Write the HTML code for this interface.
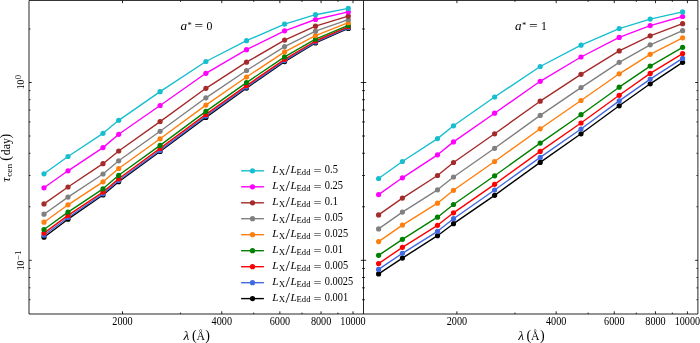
<!DOCTYPE html>
<html><head><meta charset="utf-8"><title>tau_cen vs lambda</title>
<style>html,body{margin:0;padding:0;background:#fff}svg{display:block;will-change:transform}text{fill:#000}</style>
</head><body>
<svg width="700" height="343" viewBox="0 0 700 343">
<rect width="700" height="343" fill="#fff"/>
<defs><clipPath id="cl"><rect x="29.0" y="0.45" width="334.5" height="313.55"/></clipPath><clipPath id="cr"><rect x="363.5" y="0.45" width="334.4" height="313.55"/></clipPath></defs>
<g clip-path="url(#cl)">
<polyline points="44.0,237.2 68.0,219.2 103.0,195.0 118.7,181.7 160.1,151.4 205.9,117.4 246.5,88.1 284.6,61.6 315.5,42.9 348.3,28.4" fill="none" stroke="#000000" stroke-width="1.4" stroke-linejoin="round"/>
<circle cx="44.0" cy="237.2" r="2.6" fill="#000000"/>
<circle cx="68.0" cy="219.2" r="2.6" fill="#000000"/>
<circle cx="103.0" cy="195.0" r="2.6" fill="#000000"/>
<circle cx="118.7" cy="181.7" r="2.6" fill="#000000"/>
<circle cx="160.1" cy="151.4" r="2.6" fill="#000000"/>
<circle cx="205.9" cy="117.4" r="2.6" fill="#000000"/>
<circle cx="246.5" cy="88.1" r="2.6" fill="#000000"/>
<circle cx="284.6" cy="61.6" r="2.6" fill="#000000"/>
<circle cx="315.5" cy="42.9" r="2.6" fill="#000000"/>
<circle cx="348.3" cy="28.4" r="2.6" fill="#000000"/>
<polyline points="44.0,235.2 68.0,217.5 103.0,193.8 118.7,180.5 160.1,150.4 205.9,116.1 246.5,87.1 284.6,60.6 315.5,42.1 348.3,27.6" fill="none" stroke="#4169e1" stroke-width="1.4" stroke-linejoin="round"/>
<circle cx="44.0" cy="235.2" r="2.6" fill="#4169e1"/>
<circle cx="68.0" cy="217.5" r="2.6" fill="#4169e1"/>
<circle cx="103.0" cy="193.8" r="2.6" fill="#4169e1"/>
<circle cx="118.7" cy="180.5" r="2.6" fill="#4169e1"/>
<circle cx="160.1" cy="150.4" r="2.6" fill="#4169e1"/>
<circle cx="205.9" cy="116.1" r="2.6" fill="#4169e1"/>
<circle cx="246.5" cy="87.1" r="2.6" fill="#4169e1"/>
<circle cx="284.6" cy="60.6" r="2.6" fill="#4169e1"/>
<circle cx="315.5" cy="42.1" r="2.6" fill="#4169e1"/>
<circle cx="348.3" cy="27.6" r="2.6" fill="#4169e1"/>
<polyline points="44.0,233.1 68.0,215.4 103.0,192.1 118.7,178.8 160.1,148.4 205.9,114.4 246.5,85.6 284.6,59.3 315.5,41.0 348.3,26.6" fill="none" stroke="#ff0000" stroke-width="1.4" stroke-linejoin="round"/>
<circle cx="44.0" cy="233.1" r="2.6" fill="#ff0000"/>
<circle cx="68.0" cy="215.4" r="2.6" fill="#ff0000"/>
<circle cx="103.0" cy="192.1" r="2.6" fill="#ff0000"/>
<circle cx="118.7" cy="178.8" r="2.6" fill="#ff0000"/>
<circle cx="160.1" cy="148.4" r="2.6" fill="#ff0000"/>
<circle cx="205.9" cy="114.4" r="2.6" fill="#ff0000"/>
<circle cx="246.5" cy="85.6" r="2.6" fill="#ff0000"/>
<circle cx="284.6" cy="59.3" r="2.6" fill="#ff0000"/>
<circle cx="315.5" cy="41.0" r="2.6" fill="#ff0000"/>
<circle cx="348.3" cy="26.6" r="2.6" fill="#ff0000"/>
<polyline points="44.0,229.5 68.0,212.1 103.0,188.8 118.7,175.3 160.1,145.4 205.9,111.4 246.5,82.6 284.6,56.8 315.5,39.2 348.3,25.4" fill="none" stroke="#008000" stroke-width="1.4" stroke-linejoin="round"/>
<circle cx="44.0" cy="229.5" r="2.6" fill="#008000"/>
<circle cx="68.0" cy="212.1" r="2.6" fill="#008000"/>
<circle cx="103.0" cy="188.8" r="2.6" fill="#008000"/>
<circle cx="118.7" cy="175.3" r="2.6" fill="#008000"/>
<circle cx="160.1" cy="145.4" r="2.6" fill="#008000"/>
<circle cx="205.9" cy="111.4" r="2.6" fill="#008000"/>
<circle cx="246.5" cy="82.6" r="2.6" fill="#008000"/>
<circle cx="284.6" cy="56.8" r="2.6" fill="#008000"/>
<circle cx="315.5" cy="39.2" r="2.6" fill="#008000"/>
<circle cx="348.3" cy="25.4" r="2.6" fill="#008000"/>
<polyline points="44.0,222.2 68.0,204.8 103.0,181.8 118.7,168.5 160.1,138.8 205.9,105.1 246.5,77.0 284.6,51.8 315.5,35.6 348.3,22.7" fill="none" stroke="#ff7f0e" stroke-width="1.4" stroke-linejoin="round"/>
<circle cx="44.0" cy="222.2" r="2.6" fill="#ff7f0e"/>
<circle cx="68.0" cy="204.8" r="2.6" fill="#ff7f0e"/>
<circle cx="103.0" cy="181.8" r="2.6" fill="#ff7f0e"/>
<circle cx="118.7" cy="168.5" r="2.6" fill="#ff7f0e"/>
<circle cx="160.1" cy="138.8" r="2.6" fill="#ff7f0e"/>
<circle cx="205.9" cy="105.1" r="2.6" fill="#ff7f0e"/>
<circle cx="246.5" cy="77.0" r="2.6" fill="#ff7f0e"/>
<circle cx="284.6" cy="51.8" r="2.6" fill="#ff7f0e"/>
<circle cx="315.5" cy="35.6" r="2.6" fill="#ff7f0e"/>
<circle cx="348.3" cy="22.7" r="2.6" fill="#ff7f0e"/>
<polyline points="44.0,214.2 68.0,197.1 103.0,174.0 118.7,160.8 160.1,131.3 205.9,97.8 246.5,70.5 284.6,46.6 315.5,31.2 348.3,19.7" fill="none" stroke="#808080" stroke-width="1.4" stroke-linejoin="round"/>
<circle cx="44.0" cy="214.2" r="2.6" fill="#808080"/>
<circle cx="68.0" cy="197.1" r="2.6" fill="#808080"/>
<circle cx="103.0" cy="174.0" r="2.6" fill="#808080"/>
<circle cx="118.7" cy="160.8" r="2.6" fill="#808080"/>
<circle cx="160.1" cy="131.3" r="2.6" fill="#808080"/>
<circle cx="205.9" cy="97.8" r="2.6" fill="#808080"/>
<circle cx="246.5" cy="70.5" r="2.6" fill="#808080"/>
<circle cx="284.6" cy="46.6" r="2.6" fill="#808080"/>
<circle cx="315.5" cy="31.2" r="2.6" fill="#808080"/>
<circle cx="348.3" cy="19.7" r="2.6" fill="#808080"/>
<polyline points="44.0,203.9 68.0,187.0 103.0,163.7 118.7,151.0 160.1,121.6 205.9,88.3 246.5,62.2 284.6,40.1 315.5,26.2 348.3,16.1" fill="none" stroke="#a52a2a" stroke-width="1.4" stroke-linejoin="round"/>
<circle cx="44.0" cy="203.9" r="2.6" fill="#a52a2a"/>
<circle cx="68.0" cy="187.0" r="2.6" fill="#a52a2a"/>
<circle cx="103.0" cy="163.7" r="2.6" fill="#a52a2a"/>
<circle cx="118.7" cy="151.0" r="2.6" fill="#a52a2a"/>
<circle cx="160.1" cy="121.6" r="2.6" fill="#a52a2a"/>
<circle cx="205.9" cy="88.3" r="2.6" fill="#a52a2a"/>
<circle cx="246.5" cy="62.2" r="2.6" fill="#a52a2a"/>
<circle cx="284.6" cy="40.1" r="2.6" fill="#a52a2a"/>
<circle cx="315.5" cy="26.2" r="2.6" fill="#a52a2a"/>
<circle cx="348.3" cy="16.1" r="2.6" fill="#a52a2a"/>
<polyline points="44.0,187.8 68.0,170.8 103.0,147.6 118.7,134.3 160.1,105.5 205.9,73.3 246.5,49.7 284.6,30.8 315.5,19.5 348.3,11.9" fill="none" stroke="#ff00ff" stroke-width="1.4" stroke-linejoin="round"/>
<circle cx="44.0" cy="187.8" r="2.6" fill="#ff00ff"/>
<circle cx="68.0" cy="170.8" r="2.6" fill="#ff00ff"/>
<circle cx="103.0" cy="147.6" r="2.6" fill="#ff00ff"/>
<circle cx="118.7" cy="134.3" r="2.6" fill="#ff00ff"/>
<circle cx="160.1" cy="105.5" r="2.6" fill="#ff00ff"/>
<circle cx="205.9" cy="73.3" r="2.6" fill="#ff00ff"/>
<circle cx="246.5" cy="49.7" r="2.6" fill="#ff00ff"/>
<circle cx="284.6" cy="30.8" r="2.6" fill="#ff00ff"/>
<circle cx="315.5" cy="19.5" r="2.6" fill="#ff00ff"/>
<circle cx="348.3" cy="11.9" r="2.6" fill="#ff00ff"/>
<polyline points="44.0,173.8 68.0,156.5 103.0,133.3 118.7,120.3 160.1,91.7 205.9,61.5 246.5,40.7 284.6,24.1 315.5,14.7 348.3,8.4" fill="none" stroke="#17becf" stroke-width="1.4" stroke-linejoin="round"/>
<circle cx="44.0" cy="173.8" r="2.6" fill="#17becf"/>
<circle cx="68.0" cy="156.5" r="2.6" fill="#17becf"/>
<circle cx="103.0" cy="133.3" r="2.6" fill="#17becf"/>
<circle cx="118.7" cy="120.3" r="2.6" fill="#17becf"/>
<circle cx="160.1" cy="91.7" r="2.6" fill="#17becf"/>
<circle cx="205.9" cy="61.5" r="2.6" fill="#17becf"/>
<circle cx="246.5" cy="40.7" r="2.6" fill="#17becf"/>
<circle cx="284.6" cy="24.1" r="2.6" fill="#17becf"/>
<circle cx="315.5" cy="14.7" r="2.6" fill="#17becf"/>
<circle cx="348.3" cy="8.4" r="2.6" fill="#17becf"/>
</g>
<g clip-path="url(#cr)">
<polyline points="378.6,273.9 402.4,258.1 437.5,235.7 453.5,223.7 494.6,195.3 540.2,162.4 581.0,133.8 619.2,105.8 650.2,83.8 682.6,62.3" fill="none" stroke="#000000" stroke-width="1.4" stroke-linejoin="round"/>
<circle cx="378.6" cy="273.9" r="2.6" fill="#000000"/>
<circle cx="402.4" cy="258.1" r="2.6" fill="#000000"/>
<circle cx="437.5" cy="235.7" r="2.6" fill="#000000"/>
<circle cx="453.5" cy="223.7" r="2.6" fill="#000000"/>
<circle cx="494.6" cy="195.3" r="2.6" fill="#000000"/>
<circle cx="540.2" cy="162.4" r="2.6" fill="#000000"/>
<circle cx="581.0" cy="133.8" r="2.6" fill="#000000"/>
<circle cx="619.2" cy="105.8" r="2.6" fill="#000000"/>
<circle cx="650.2" cy="83.8" r="2.6" fill="#000000"/>
<circle cx="682.6" cy="62.3" r="2.6" fill="#000000"/>
<polyline points="378.6,269.4 402.4,253.3 437.5,231.3 453.5,218.7 494.6,190.0 540.2,157.4 581.0,129.0 619.2,100.9 650.2,79.1 682.6,58.4" fill="none" stroke="#4169e1" stroke-width="1.4" stroke-linejoin="round"/>
<circle cx="378.6" cy="269.4" r="2.6" fill="#4169e1"/>
<circle cx="402.4" cy="253.3" r="2.6" fill="#4169e1"/>
<circle cx="437.5" cy="231.3" r="2.6" fill="#4169e1"/>
<circle cx="453.5" cy="218.7" r="2.6" fill="#4169e1"/>
<circle cx="494.6" cy="190.0" r="2.6" fill="#4169e1"/>
<circle cx="540.2" cy="157.4" r="2.6" fill="#4169e1"/>
<circle cx="581.0" cy="129.0" r="2.6" fill="#4169e1"/>
<circle cx="619.2" cy="100.9" r="2.6" fill="#4169e1"/>
<circle cx="650.2" cy="79.1" r="2.6" fill="#4169e1"/>
<circle cx="682.6" cy="58.4" r="2.6" fill="#4169e1"/>
<polyline points="378.6,263.6 402.4,247.3 437.5,225.3 453.5,212.8 494.6,184.3 540.2,151.4 581.0,123.0 619.2,95.3 650.2,73.4 682.6,53.6" fill="none" stroke="#ff0000" stroke-width="1.4" stroke-linejoin="round"/>
<circle cx="378.6" cy="263.6" r="2.6" fill="#ff0000"/>
<circle cx="402.4" cy="247.3" r="2.6" fill="#ff0000"/>
<circle cx="437.5" cy="225.3" r="2.6" fill="#ff0000"/>
<circle cx="453.5" cy="212.8" r="2.6" fill="#ff0000"/>
<circle cx="494.6" cy="184.3" r="2.6" fill="#ff0000"/>
<circle cx="540.2" cy="151.4" r="2.6" fill="#ff0000"/>
<circle cx="581.0" cy="123.0" r="2.6" fill="#ff0000"/>
<circle cx="619.2" cy="95.3" r="2.6" fill="#ff0000"/>
<circle cx="650.2" cy="73.4" r="2.6" fill="#ff0000"/>
<circle cx="682.6" cy="53.6" r="2.6" fill="#ff0000"/>
<polyline points="378.6,255.3 402.4,239.3 437.5,217.2 453.5,204.5 494.6,175.8 540.2,143.1 581.0,114.7 619.2,87.2 650.2,66.1 682.6,47.3" fill="none" stroke="#008000" stroke-width="1.4" stroke-linejoin="round"/>
<circle cx="378.6" cy="255.3" r="2.6" fill="#008000"/>
<circle cx="402.4" cy="239.3" r="2.6" fill="#008000"/>
<circle cx="437.5" cy="217.2" r="2.6" fill="#008000"/>
<circle cx="453.5" cy="204.5" r="2.6" fill="#008000"/>
<circle cx="494.6" cy="175.8" r="2.6" fill="#008000"/>
<circle cx="540.2" cy="143.1" r="2.6" fill="#008000"/>
<circle cx="581.0" cy="114.7" r="2.6" fill="#008000"/>
<circle cx="619.2" cy="87.2" r="2.6" fill="#008000"/>
<circle cx="650.2" cy="66.1" r="2.6" fill="#008000"/>
<circle cx="682.6" cy="47.3" r="2.6" fill="#008000"/>
<polyline points="378.6,241.6 402.4,225.1 437.5,203.2 453.5,190.3 494.6,161.5 540.2,128.8 581.0,100.5 619.2,73.8 650.2,54.3 682.6,37.8" fill="none" stroke="#ff7f0e" stroke-width="1.4" stroke-linejoin="round"/>
<circle cx="378.6" cy="241.6" r="2.6" fill="#ff7f0e"/>
<circle cx="402.4" cy="225.1" r="2.6" fill="#ff7f0e"/>
<circle cx="437.5" cy="203.2" r="2.6" fill="#ff7f0e"/>
<circle cx="453.5" cy="190.3" r="2.6" fill="#ff7f0e"/>
<circle cx="494.6" cy="161.5" r="2.6" fill="#ff7f0e"/>
<circle cx="540.2" cy="128.8" r="2.6" fill="#ff7f0e"/>
<circle cx="581.0" cy="100.5" r="2.6" fill="#ff7f0e"/>
<circle cx="619.2" cy="73.8" r="2.6" fill="#ff7f0e"/>
<circle cx="650.2" cy="54.3" r="2.6" fill="#ff7f0e"/>
<circle cx="682.6" cy="37.8" r="2.6" fill="#ff7f0e"/>
<polyline points="378.6,228.9 402.4,212.1 437.5,189.8 453.5,177.0 494.6,148.3 540.2,115.4 581.0,87.6 619.2,62.3 650.2,44.8 682.6,30.7" fill="none" stroke="#808080" stroke-width="1.4" stroke-linejoin="round"/>
<circle cx="378.6" cy="228.9" r="2.6" fill="#808080"/>
<circle cx="402.4" cy="212.1" r="2.6" fill="#808080"/>
<circle cx="437.5" cy="189.8" r="2.6" fill="#808080"/>
<circle cx="453.5" cy="177.0" r="2.6" fill="#808080"/>
<circle cx="494.6" cy="148.3" r="2.6" fill="#808080"/>
<circle cx="540.2" cy="115.4" r="2.6" fill="#808080"/>
<circle cx="581.0" cy="87.6" r="2.6" fill="#808080"/>
<circle cx="619.2" cy="62.3" r="2.6" fill="#808080"/>
<circle cx="650.2" cy="44.8" r="2.6" fill="#808080"/>
<circle cx="682.6" cy="30.7" r="2.6" fill="#808080"/>
<polyline points="378.6,214.9 402.4,198.1 437.5,175.5 453.5,162.5 494.6,133.8 540.2,101.2 581.0,74.3 619.2,50.9 650.2,35.8 682.6,23.7" fill="none" stroke="#a52a2a" stroke-width="1.4" stroke-linejoin="round"/>
<circle cx="378.6" cy="214.9" r="2.6" fill="#a52a2a"/>
<circle cx="402.4" cy="198.1" r="2.6" fill="#a52a2a"/>
<circle cx="437.5" cy="175.5" r="2.6" fill="#a52a2a"/>
<circle cx="453.5" cy="162.5" r="2.6" fill="#a52a2a"/>
<circle cx="494.6" cy="133.8" r="2.6" fill="#a52a2a"/>
<circle cx="540.2" cy="101.2" r="2.6" fill="#a52a2a"/>
<circle cx="581.0" cy="74.3" r="2.6" fill="#a52a2a"/>
<circle cx="619.2" cy="50.9" r="2.6" fill="#a52a2a"/>
<circle cx="650.2" cy="35.8" r="2.6" fill="#a52a2a"/>
<circle cx="682.6" cy="23.7" r="2.6" fill="#a52a2a"/>
<polyline points="378.6,194.6 402.4,177.8 437.5,154.8 453.5,141.9 494.6,113.2 540.2,81.3 581.0,57.0 619.2,37.4 650.2,25.6 682.6,16.5" fill="none" stroke="#ff00ff" stroke-width="1.4" stroke-linejoin="round"/>
<circle cx="378.6" cy="194.6" r="2.6" fill="#ff00ff"/>
<circle cx="402.4" cy="177.8" r="2.6" fill="#ff00ff"/>
<circle cx="437.5" cy="154.8" r="2.6" fill="#ff00ff"/>
<circle cx="453.5" cy="141.9" r="2.6" fill="#ff00ff"/>
<circle cx="494.6" cy="113.2" r="2.6" fill="#ff00ff"/>
<circle cx="540.2" cy="81.3" r="2.6" fill="#ff00ff"/>
<circle cx="581.0" cy="57.0" r="2.6" fill="#ff00ff"/>
<circle cx="619.2" cy="37.4" r="2.6" fill="#ff00ff"/>
<circle cx="650.2" cy="25.6" r="2.6" fill="#ff00ff"/>
<circle cx="682.6" cy="16.5" r="2.6" fill="#ff00ff"/>
<polyline points="378.6,178.5 402.4,161.5 437.5,138.6 453.5,125.8 494.6,97.0 540.2,66.5 581.0,45.2 619.2,28.6 650.2,19.1 682.6,11.9" fill="none" stroke="#17becf" stroke-width="1.4" stroke-linejoin="round"/>
<circle cx="378.6" cy="178.5" r="2.6" fill="#17becf"/>
<circle cx="402.4" cy="161.5" r="2.6" fill="#17becf"/>
<circle cx="437.5" cy="138.6" r="2.6" fill="#17becf"/>
<circle cx="453.5" cy="125.8" r="2.6" fill="#17becf"/>
<circle cx="494.6" cy="97.0" r="2.6" fill="#17becf"/>
<circle cx="540.2" cy="66.5" r="2.6" fill="#17becf"/>
<circle cx="581.0" cy="45.2" r="2.6" fill="#17becf"/>
<circle cx="619.2" cy="28.6" r="2.6" fill="#17becf"/>
<circle cx="650.2" cy="19.1" r="2.6" fill="#17becf"/>
<circle cx="682.6" cy="11.9" r="2.6" fill="#17becf"/>
</g>
<path d="M122.50 314.0v-2.7 M122.50 0.45v2.7 M180.57 314.0v-1.4 M180.57 0.45v1.4 M221.78 314.0v-2.7 M221.78 0.45v2.7 M253.74 314.0v-1.4 M253.74 0.45v1.4 M279.85 314.0v-2.7 M279.85 0.45v2.7 M301.93 314.0v-1.4 M301.93 0.45v1.4 M321.06 314.0v-2.7 M321.06 0.45v2.7 M337.93 314.0v-1.4 M337.93 0.45v1.4 M353.02 314.0v-2.7 M353.02 0.45v2.7 M456.90 314.0v-2.7 M456.90 0.45v2.7 M514.97 314.0v-1.4 M514.97 0.45v1.4 M556.18 314.0v-2.7 M556.18 0.45v2.7 M588.14 314.0v-1.4 M588.14 0.45v1.4 M614.25 314.0v-2.7 M614.25 0.45v2.7 M636.33 314.0v-1.4 M636.33 0.45v1.4 M655.46 314.0v-2.7 M655.46 0.45v2.7 M672.33 314.0v-1.4 M672.33 0.45v1.4 M687.42 314.0v-2.7 M687.42 0.45v2.7 M29.0 28.98h1.4 M362.1 28.98h2.8 M697.9 28.98h-1.4 M29.0 82.50h2.7 M360.8 82.50h5.4 M697.9 82.50h-2.7 M29.0 90.64h1.4 M362.1 90.64h2.8 M697.9 90.64h-1.4 M29.0 99.73h1.4 M362.1 99.73h2.8 M697.9 99.73h-1.4 M29.0 110.04h1.4 M362.1 110.04h2.8 M697.9 110.04h-1.4 M29.0 121.94h1.4 M362.1 121.94h2.8 M697.9 121.94h-1.4 M29.0 136.02h1.4 M362.1 136.02h2.8 M697.9 136.02h-1.4 M29.0 153.25h1.4 M362.1 153.25h2.8 M697.9 153.25h-1.4 M29.0 175.47h1.4 M362.1 175.47h2.8 M697.9 175.47h-1.4 M29.0 206.78h1.4 M362.1 206.78h2.8 M697.9 206.78h-1.4 M29.0 260.30h2.7 M360.8 260.30h5.4 M697.9 260.30h-2.7 M29.0 268.44h1.4 M362.1 268.44h2.8 M697.9 268.44h-1.4 M29.0 277.53h1.4 M362.1 277.53h2.8 M697.9 277.53h-1.4 M29.0 287.84h1.4 M362.1 287.84h2.8 M697.9 287.84h-1.4 M29.0 299.74h1.4 M362.1 299.74h2.8 M697.9 299.74h-1.4" stroke="#000" stroke-width="0.85" fill="none"/>
<path d="M29.0 0.45H697.9V314.0H29.0Z M363.5 0.45V314.0" fill="none" stroke="#000" stroke-width="0.85"/>
<text font-size="11.6" font-family="Liberation Serif, serif" textLength="20.4" lengthAdjust="spacingAndGlyphs" x="112.3" y="324.6">2000</text>
<text font-size="11.6" font-family="Liberation Serif, serif" textLength="20.4" lengthAdjust="spacingAndGlyphs" x="211.6" y="324.6">4000</text>
<text font-size="11.6" font-family="Liberation Serif, serif" textLength="20.4" lengthAdjust="spacingAndGlyphs" x="269.7" y="324.6">6000</text>
<text font-size="11.6" font-family="Liberation Serif, serif" textLength="20.4" lengthAdjust="spacingAndGlyphs" x="310.9" y="324.6">8000</text>
<text font-size="11.6" font-family="Liberation Serif, serif" textLength="25.4" lengthAdjust="spacingAndGlyphs" x="340.3" y="324.6">10000</text>
<text font-size="11.6" font-family="Liberation Serif, serif" textLength="20.4" lengthAdjust="spacingAndGlyphs" x="446.7" y="324.6">2000</text>
<text font-size="11.6" font-family="Liberation Serif, serif" textLength="20.4" lengthAdjust="spacingAndGlyphs" x="546.0" y="324.6">4000</text>
<text font-size="11.6" font-family="Liberation Serif, serif" textLength="20.4" lengthAdjust="spacingAndGlyphs" x="604.1" y="324.6">6000</text>
<text font-size="11.6" font-family="Liberation Serif, serif" textLength="20.4" lengthAdjust="spacingAndGlyphs" x="645.3" y="324.6">8000</text>
<text font-size="11.6" font-family="Liberation Serif, serif" textLength="25.4" lengthAdjust="spacingAndGlyphs" x="674.7" y="324.6">10000</text>
<text font-size="13.4" font-family="Liberation Serif, serif" font-style="italic" x="183.60000000000002" y="340.0">λ</text>
<text font-size="14" font-family="Liberation Serif, serif" x="191.9" y="340.4">(</text>
<text font-size="12.2" font-family="Liberation Serif, serif" textLength="8.5" lengthAdjust="spacingAndGlyphs" x="196.4" y="340.2">Å</text>
<text font-size="14" font-family="Liberation Serif, serif" x="205.3" y="340.4">)</text>
<text font-size="13.4" font-family="Liberation Serif, serif" font-style="italic" x="518.1999999999999" y="340.0">λ</text>
<text font-size="14" font-family="Liberation Serif, serif" x="526.5" y="340.4">(</text>
<text font-size="12.2" font-family="Liberation Serif, serif" textLength="8.5" lengthAdjust="spacingAndGlyphs" x="531.0" y="340.2">Å</text>
<text font-size="14" font-family="Liberation Serif, serif" x="539.9" y="340.4">)</text>
<text font-size="10.8" font-family="Liberation Serif, serif" textLength="9.6" lengthAdjust="spacingAndGlyphs" transform="translate(24.4,89.3) rotate(-90)">10</text>
<text font-size="7.8" font-family="Liberation Serif, serif" textLength="4.3" lengthAdjust="spacingAndGlyphs" transform="translate(21.3,79.3) rotate(-90)">0</text>
<text font-size="10.8" font-family="Liberation Serif, serif" textLength="9.6" lengthAdjust="spacingAndGlyphs" transform="translate(24.4,270.3) rotate(-90)">10</text>
<text font-size="7.8" font-family="Liberation Serif, serif" textLength="9.8" lengthAdjust="spacingAndGlyphs" transform="translate(21.3,260.2) rotate(-90)">−1</text>
<text font-size="13.2" font-family="Liberation Serif, serif" font-style="italic" transform="translate(9.8,182.0) rotate(-90)">τ</text>
<text font-size="9.0" font-family="Liberation Serif, serif" textLength="12.9" lengthAdjust="spacingAndGlyphs" transform="translate(11.8,176.8) rotate(-90)">cen</text>
<text font-size="14" font-family="Liberation Serif, serif" transform="translate(9.8,160.8) rotate(-90)">(</text>
<text font-size="12.2" font-family="Liberation Serif, serif" textLength="17.0" lengthAdjust="spacingAndGlyphs" transform="translate(9.8,155.2) rotate(-90)">day</text>
<text font-size="14" font-family="Liberation Serif, serif" transform="translate(9.8,138.4) rotate(-90)">)</text>
<text font-size="12.6" font-family="Liberation Serif, serif" font-style="italic" textLength="6.6" lengthAdjust="spacingAndGlyphs" x="180.6" y="29.8">a</text>
<text font-size="8.6" font-family="Liberation Serif, serif" x="187.6" y="27.9">*</text>
<text font-size="12.2" font-family="Liberation Serif, serif" textLength="8.6" lengthAdjust="spacingAndGlyphs" x="194.6" y="29.8">=</text>
<text font-size="12.0" font-family="Liberation Serif, serif" textLength="5.9" lengthAdjust="spacingAndGlyphs" x="206.6" y="29.7">0</text>
<text font-size="12.6" font-family="Liberation Serif, serif" font-style="italic" textLength="6.6" lengthAdjust="spacingAndGlyphs" x="514.9" y="29.8">a</text>
<text font-size="8.6" font-family="Liberation Serif, serif" x="521.9" y="27.9">*</text>
<text font-size="12.2" font-family="Liberation Serif, serif" textLength="8.6" lengthAdjust="spacingAndGlyphs" x="528.9" y="29.8">=</text>
<text font-size="12.0" font-family="Liberation Serif, serif" textLength="5.9" lengthAdjust="spacingAndGlyphs" x="540.9" y="29.7">1</text>
<line x1="241.1" x2="263.9" y1="170.8" y2="170.8" stroke="#17becf" stroke-width="1.4"/>
<circle cx="252.5" cy="170.8" r="2.6" fill="#17becf"/>
<text font-size="11.3" font-family="Liberation Serif, serif" font-style="italic" x="272.2" y="172.7">L</text>
<text font-size="7.6" font-family="Liberation Serif, serif" textLength="6.5" lengthAdjust="spacingAndGlyphs" x="278.8" y="174.6">X</text>
<text font-size="15" font-family="Liberation Serif, serif" textLength="4.4" lengthAdjust="spacingAndGlyphs" x="285.5" y="175.29999999999998">/</text>
<text font-size="11.3" font-family="Liberation Serif, serif" font-style="italic" x="290.6" y="172.7">L</text>
<text font-size="7.6" font-family="Liberation Serif, serif" textLength="13.9" lengthAdjust="spacingAndGlyphs" x="296.6" y="174.6">Edd</text>
<text font-size="11.4" font-family="Liberation Serif, serif" textLength="8.0" lengthAdjust="spacingAndGlyphs" x="313.6" y="173.79999999999998">=</text>
<text font-size="11.8" font-family="Liberation Serif, serif" textLength="13.1" lengthAdjust="spacingAndGlyphs" x="324.8" y="173.1">0.5</text>
<line x1="241.1" x2="263.9" y1="186.8" y2="186.8" stroke="#ff00ff" stroke-width="1.4"/>
<circle cx="252.5" cy="186.8" r="2.6" fill="#ff00ff"/>
<text font-size="11.3" font-family="Liberation Serif, serif" font-style="italic" x="272.2" y="188.7">L</text>
<text font-size="7.6" font-family="Liberation Serif, serif" textLength="6.5" lengthAdjust="spacingAndGlyphs" x="278.8" y="190.6">X</text>
<text font-size="15" font-family="Liberation Serif, serif" textLength="4.4" lengthAdjust="spacingAndGlyphs" x="285.5" y="191.29999999999998">/</text>
<text font-size="11.3" font-family="Liberation Serif, serif" font-style="italic" x="290.6" y="188.7">L</text>
<text font-size="7.6" font-family="Liberation Serif, serif" textLength="13.9" lengthAdjust="spacingAndGlyphs" x="296.6" y="190.6">Edd</text>
<text font-size="11.4" font-family="Liberation Serif, serif" textLength="8.0" lengthAdjust="spacingAndGlyphs" x="313.6" y="189.79999999999998">=</text>
<text font-size="11.8" font-family="Liberation Serif, serif" textLength="18.2" lengthAdjust="spacingAndGlyphs" x="324.8" y="189.1">0.25</text>
<line x1="241.1" x2="263.9" y1="202.8" y2="202.8" stroke="#a52a2a" stroke-width="1.4"/>
<circle cx="252.5" cy="202.8" r="2.6" fill="#a52a2a"/>
<text font-size="11.3" font-family="Liberation Serif, serif" font-style="italic" x="272.2" y="204.7">L</text>
<text font-size="7.6" font-family="Liberation Serif, serif" textLength="6.5" lengthAdjust="spacingAndGlyphs" x="278.8" y="206.6">X</text>
<text font-size="15" font-family="Liberation Serif, serif" textLength="4.4" lengthAdjust="spacingAndGlyphs" x="285.5" y="207.29999999999998">/</text>
<text font-size="11.3" font-family="Liberation Serif, serif" font-style="italic" x="290.6" y="204.7">L</text>
<text font-size="7.6" font-family="Liberation Serif, serif" textLength="13.9" lengthAdjust="spacingAndGlyphs" x="296.6" y="206.6">Edd</text>
<text font-size="11.4" font-family="Liberation Serif, serif" textLength="8.0" lengthAdjust="spacingAndGlyphs" x="313.6" y="205.79999999999998">=</text>
<text font-size="11.8" font-family="Liberation Serif, serif" textLength="13.1" lengthAdjust="spacingAndGlyphs" x="324.8" y="205.1">0.1</text>
<line x1="241.1" x2="263.9" y1="218.7" y2="218.7" stroke="#808080" stroke-width="1.4"/>
<circle cx="252.5" cy="218.7" r="2.6" fill="#808080"/>
<text font-size="11.3" font-family="Liberation Serif, serif" font-style="italic" x="272.2" y="220.6">L</text>
<text font-size="7.6" font-family="Liberation Serif, serif" textLength="6.5" lengthAdjust="spacingAndGlyphs" x="278.8" y="222.5">X</text>
<text font-size="15" font-family="Liberation Serif, serif" textLength="4.4" lengthAdjust="spacingAndGlyphs" x="285.5" y="223.2">/</text>
<text font-size="11.3" font-family="Liberation Serif, serif" font-style="italic" x="290.6" y="220.6">L</text>
<text font-size="7.6" font-family="Liberation Serif, serif" textLength="13.9" lengthAdjust="spacingAndGlyphs" x="296.6" y="222.5">Edd</text>
<text font-size="11.4" font-family="Liberation Serif, serif" textLength="8.0" lengthAdjust="spacingAndGlyphs" x="313.6" y="221.7">=</text>
<text font-size="11.8" font-family="Liberation Serif, serif" textLength="18.2" lengthAdjust="spacingAndGlyphs" x="324.8" y="221.0">0.05</text>
<line x1="241.1" x2="263.9" y1="234.7" y2="234.7" stroke="#ff7f0e" stroke-width="1.4"/>
<circle cx="252.5" cy="234.7" r="2.6" fill="#ff7f0e"/>
<text font-size="11.3" font-family="Liberation Serif, serif" font-style="italic" x="272.2" y="236.6">L</text>
<text font-size="7.6" font-family="Liberation Serif, serif" textLength="6.5" lengthAdjust="spacingAndGlyphs" x="278.8" y="238.5">X</text>
<text font-size="15" font-family="Liberation Serif, serif" textLength="4.4" lengthAdjust="spacingAndGlyphs" x="285.5" y="239.2">/</text>
<text font-size="11.3" font-family="Liberation Serif, serif" font-style="italic" x="290.6" y="236.6">L</text>
<text font-size="7.6" font-family="Liberation Serif, serif" textLength="13.9" lengthAdjust="spacingAndGlyphs" x="296.6" y="238.5">Edd</text>
<text font-size="11.4" font-family="Liberation Serif, serif" textLength="8.0" lengthAdjust="spacingAndGlyphs" x="313.6" y="237.7">=</text>
<text font-size="11.8" font-family="Liberation Serif, serif" textLength="23.3" lengthAdjust="spacingAndGlyphs" x="324.8" y="237.0">0.025</text>
<line x1="241.1" x2="263.9" y1="250.7" y2="250.7" stroke="#008000" stroke-width="1.4"/>
<circle cx="252.5" cy="250.7" r="2.6" fill="#008000"/>
<text font-size="11.3" font-family="Liberation Serif, serif" font-style="italic" x="272.2" y="252.6">L</text>
<text font-size="7.6" font-family="Liberation Serif, serif" textLength="6.5" lengthAdjust="spacingAndGlyphs" x="278.8" y="254.5">X</text>
<text font-size="15" font-family="Liberation Serif, serif" textLength="4.4" lengthAdjust="spacingAndGlyphs" x="285.5" y="255.2">/</text>
<text font-size="11.3" font-family="Liberation Serif, serif" font-style="italic" x="290.6" y="252.6">L</text>
<text font-size="7.6" font-family="Liberation Serif, serif" textLength="13.9" lengthAdjust="spacingAndGlyphs" x="296.6" y="254.5">Edd</text>
<text font-size="11.4" font-family="Liberation Serif, serif" textLength="8.0" lengthAdjust="spacingAndGlyphs" x="313.6" y="253.7">=</text>
<text font-size="11.8" font-family="Liberation Serif, serif" textLength="18.2" lengthAdjust="spacingAndGlyphs" x="324.8" y="253.0">0.01</text>
<line x1="241.1" x2="263.9" y1="266.7" y2="266.7" stroke="#ff0000" stroke-width="1.4"/>
<circle cx="252.5" cy="266.7" r="2.6" fill="#ff0000"/>
<text font-size="11.3" font-family="Liberation Serif, serif" font-style="italic" x="272.2" y="268.6">L</text>
<text font-size="7.6" font-family="Liberation Serif, serif" textLength="6.5" lengthAdjust="spacingAndGlyphs" x="278.8" y="270.5">X</text>
<text font-size="15" font-family="Liberation Serif, serif" textLength="4.4" lengthAdjust="spacingAndGlyphs" x="285.5" y="271.20000000000005">/</text>
<text font-size="11.3" font-family="Liberation Serif, serif" font-style="italic" x="290.6" y="268.6">L</text>
<text font-size="7.6" font-family="Liberation Serif, serif" textLength="13.9" lengthAdjust="spacingAndGlyphs" x="296.6" y="270.5">Edd</text>
<text font-size="11.4" font-family="Liberation Serif, serif" textLength="8.0" lengthAdjust="spacingAndGlyphs" x="313.6" y="269.70000000000005">=</text>
<text font-size="11.8" font-family="Liberation Serif, serif" textLength="23.3" lengthAdjust="spacingAndGlyphs" x="324.8" y="269.0">0.005</text>
<line x1="241.1" x2="263.9" y1="282.7" y2="282.7" stroke="#4169e1" stroke-width="1.4"/>
<circle cx="252.5" cy="282.7" r="2.6" fill="#4169e1"/>
<text font-size="11.3" font-family="Liberation Serif, serif" font-style="italic" x="272.2" y="284.6">L</text>
<text font-size="7.6" font-family="Liberation Serif, serif" textLength="6.5" lengthAdjust="spacingAndGlyphs" x="278.8" y="286.5">X</text>
<text font-size="15" font-family="Liberation Serif, serif" textLength="4.4" lengthAdjust="spacingAndGlyphs" x="285.5" y="287.20000000000005">/</text>
<text font-size="11.3" font-family="Liberation Serif, serif" font-style="italic" x="290.6" y="284.6">L</text>
<text font-size="7.6" font-family="Liberation Serif, serif" textLength="13.9" lengthAdjust="spacingAndGlyphs" x="296.6" y="286.5">Edd</text>
<text font-size="11.4" font-family="Liberation Serif, serif" textLength="8.0" lengthAdjust="spacingAndGlyphs" x="313.6" y="285.70000000000005">=</text>
<text font-size="11.8" font-family="Liberation Serif, serif" textLength="28.4" lengthAdjust="spacingAndGlyphs" x="324.8" y="285.0">0.0025</text>
<line x1="241.1" x2="263.9" y1="298.6" y2="298.6" stroke="#000000" stroke-width="1.4"/>
<circle cx="252.5" cy="298.6" r="2.6" fill="#000000"/>
<text font-size="11.3" font-family="Liberation Serif, serif" font-style="italic" x="272.2" y="300.5">L</text>
<text font-size="7.6" font-family="Liberation Serif, serif" textLength="6.5" lengthAdjust="spacingAndGlyphs" x="278.8" y="302.4">X</text>
<text font-size="15" font-family="Liberation Serif, serif" textLength="4.4" lengthAdjust="spacingAndGlyphs" x="285.5" y="303.1">/</text>
<text font-size="11.3" font-family="Liberation Serif, serif" font-style="italic" x="290.6" y="300.5">L</text>
<text font-size="7.6" font-family="Liberation Serif, serif" textLength="13.9" lengthAdjust="spacingAndGlyphs" x="296.6" y="302.4">Edd</text>
<text font-size="11.4" font-family="Liberation Serif, serif" textLength="8.0" lengthAdjust="spacingAndGlyphs" x="313.6" y="301.6">=</text>
<text font-size="11.8" font-family="Liberation Serif, serif" textLength="23.3" lengthAdjust="spacingAndGlyphs" x="324.8" y="300.9">0.001</text>
</svg>
</body></html>
